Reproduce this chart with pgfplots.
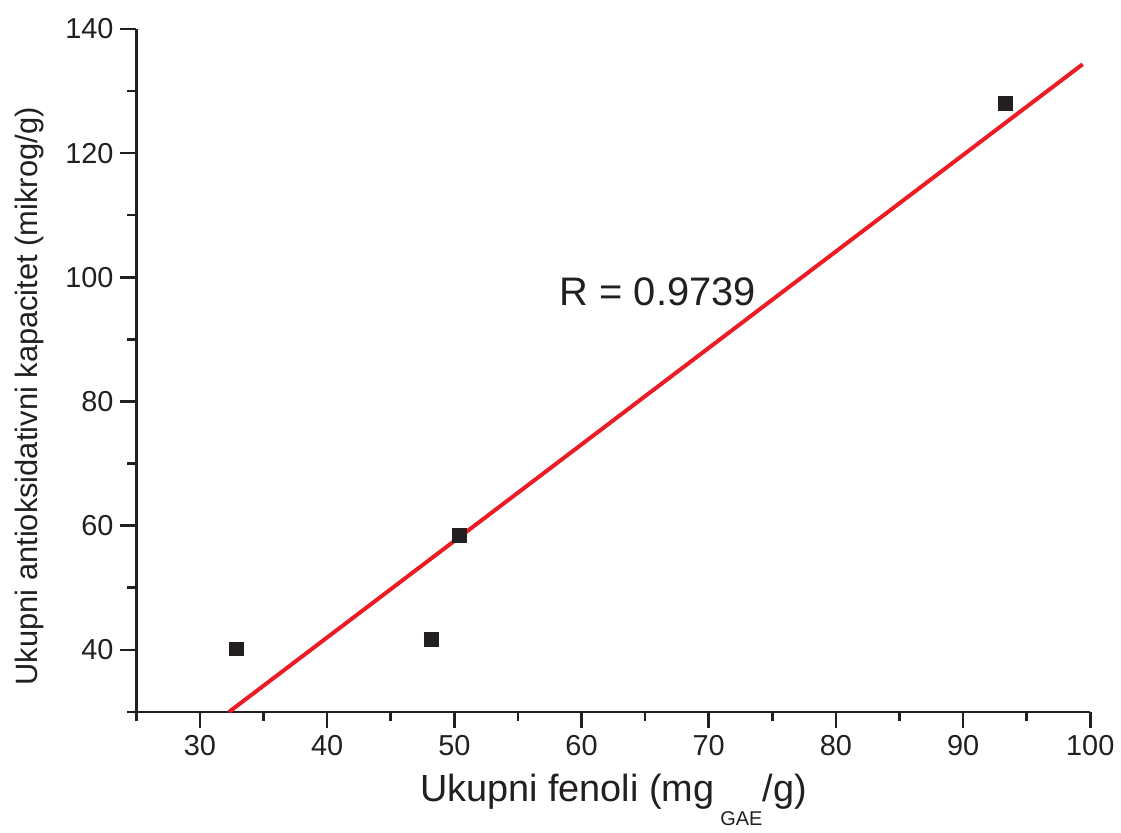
\documentclass[border=0pt]{standalone}
\usepackage{fontspec}
\setmainfont{Liberation Sans}
\usepackage{pgfplots}
\pgfplotsset{compat=1.18}
\definecolor{inkblk}{RGB}{35,31,32}
\definecolor{fitred}{RGB}{237,28,36}
\begin{document}
\begin{tikzpicture}
\begin{axis}[
  scale only axis,
  width=479pt, height=343pt,
  xmin=25, xmax=100, ymin=30, ymax=140,
  axis lines*=left,
  axis line style={inkblk, line width=1.3pt},
  xtick={30,40,...,100}, ytick={40,60,...,140},
  minor xtick={25,35,...,95}, minor ytick={30,50,...,130},
  tick align=outside, tick pos=left,
  major tick length=8pt, minor tick length=4.5pt,
  every tick/.style={inkblk, line width=1.3pt},
  /pgf/number format/assume math mode=true,
  ticklabel style={font=\fontsize{14.5}{17}\selectfont, text=inkblk},
  xlabel={Ukupni fenoli (mg\hspace{3pt}\raisebox{-12pt}{\fontsize{10}{11}\selectfont GAE}/g)},
  ylabel={Ukupni antioksidativni kapacitet (mikrog/g)},
  xlabel style={font=\fontsize{19}{21}\selectfont, text=inkblk,
    at={(axis description cs:0.5,0)}, anchor=base, yshift=-45pt},
  ylabel style={font=\fontsize{15.5}{18}\selectfont, text=inkblk,
    at={(axis description cs:0,0.462)}, anchor=center, yshift=53.5pt},
  clip=false,
]
\addplot[fitred, line width=2pt] coordinates {(32.28,30) (99.4,134.3)};
\addplot[only marks, mark=square*, mark size=3.5pt, inkblk, mark options={fill=inkblk}]
  coordinates {(32.88,40.15) (48.2,41.7) (50.37,58.5) (93.36,128.0)};
\node[font=\fontsize{20}{22}\selectfont, text=inkblk] at (axis cs:66,97.6) {R = 0.9739};
\end{axis}
\path[use as bounding box] ([shift={(-68.5pt,-51.5pt)}]current axis.south west)
  rectangle ([shift={(13pt,14.5pt)}]current axis.north east);
\end{tikzpicture}
\end{document}
